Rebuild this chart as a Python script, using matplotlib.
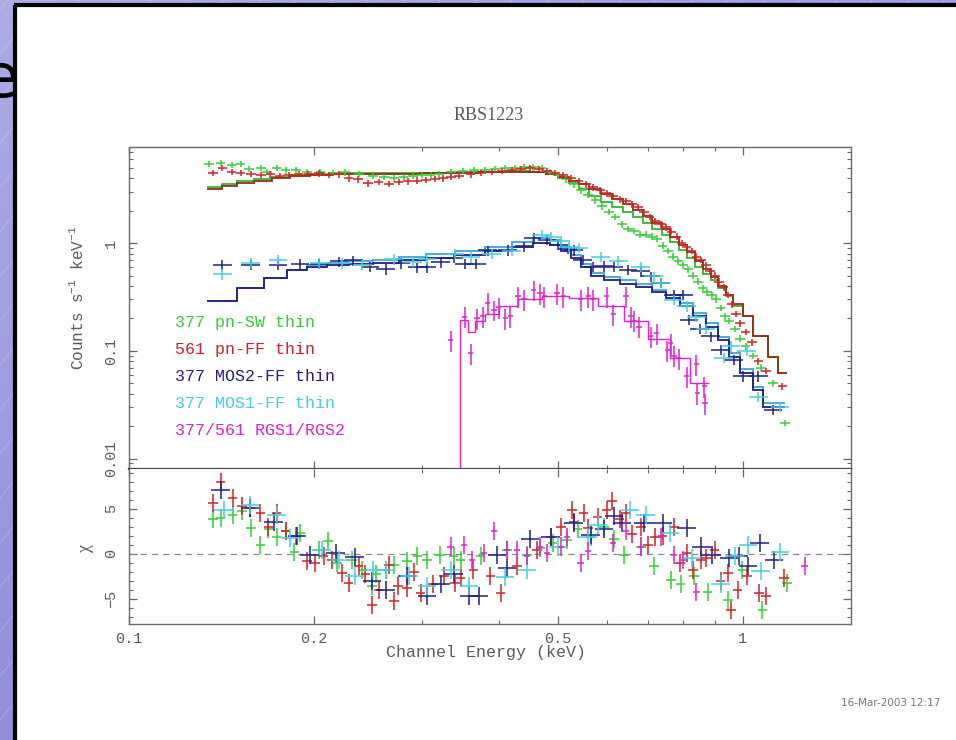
import numpy as np
import matplotlib
matplotlib.use("Agg")
import matplotlib.pyplot as plt
from matplotlib.patches import Rectangle
from matplotlib.ticker import LogLocator, MultipleLocator, NullFormatter

plt.rcParams['font.family'] = ['Liberation Mono', 'DejaVu Sans']
plt.rcParams['mathtext.default'] = 'regular'

# ---------------- data ----------------
legend_labels = ['377 pn-SW thin', '561 pn-FF thin', '377 MOS2-FF thin',
                 '377 MOS1-FF thin', '377/561 RGS1/RGS2']

# counts spectra (keV, counts/s/keV)
pnsw_e = [0.135, 0.141, 0.147, 0.152, 0.157, 0.164, 0.168, 0.174, 0.180, 0.187,
          0.195, 0.205, 0.215, 0.225, 0.237, 0.250, 0.260, 0.270, 0.280, 0.290,
          0.300, 0.310, 0.320, 0.335, 0.350, 0.365, 0.380, 0.395, 0.410, 0.425,
          0.440, 0.455, 0.470, 0.485, 0.500, 0.515, 0.530, 0.545, 0.560, 0.575,
          0.590, 0.605, 0.620, 0.635, 0.650, 0.665, 0.680, 0.695, 0.710, 0.725,
          0.740, 0.755, 0.770, 0.785, 0.800, 0.815, 0.830, 0.845, 0.860, 0.875,
          0.890, 0.905, 0.920, 0.935, 0.950, 0.970, 0.990, 1.010, 1.040, 1.070,
          1.120, 1.170]
pnsw_c = [5.45, 5.55, 5.30, 5.45, 4.90, 5.00, 4.60, 5.00, 4.75, 4.80,
          4.60, 4.60, 4.50, 4.55, 4.40, 4.20, 4.10, 4.00, 4.10, 4.20,
          4.30, 4.30, 4.40, 4.55, 4.70, 4.75, 4.80, 4.90, 4.95, 5.00,
          5.10, 5.05, 4.95, 4.60, 4.30, 3.90, 3.50, 3.10, 2.80, 2.50,
          2.20, 1.95, 1.75, 1.50, 1.35, 1.30, 1.20, 1.20, 1.15, 1.10,
          0.95, 0.85, 0.75, 0.68, 0.62, 0.57, 0.50, 0.44, 0.38, 0.35,
          0.33, 0.30, 0.25, 0.21, 0.19, 0.16, 0.13, 0.11, 0.09, 0.07,
          0.05, 0.0215]

pnff_e = [0.137, 0.142, 0.147, 0.152, 0.158, 0.164, 0.170, 0.176, 0.182, 0.189,
          0.196, 0.204, 0.212, 0.220, 0.228, 0.236, 0.245, 0.255, 0.265, 0.275,
          0.285, 0.295, 0.305, 0.315, 0.325, 0.335, 0.345, 0.360, 0.375, 0.390,
          0.405, 0.420, 0.435, 0.450, 0.465, 0.480, 0.495, 0.510, 0.525, 0.540,
          0.555, 0.570, 0.585, 0.600, 0.615, 0.630, 0.645, 0.660, 0.675, 0.690,
          0.705, 0.720, 0.735, 0.750, 0.765, 0.780, 0.795, 0.810, 0.825, 0.840,
          0.855, 0.870, 0.885, 0.900, 0.915, 0.930, 0.945, 0.960, 0.975, 0.990,
          1.010, 1.035, 1.060, 1.090, 1.160]
pnff_c = [4.50, 5.00, 4.60, 4.50, 4.40, 4.30, 4.35, 4.20, 4.30, 4.40,
          4.40, 4.45, 4.30, 4.35, 4.00, 3.90, 3.60, 3.70, 3.55, 3.70,
          3.75, 3.80, 3.85, 3.95, 4.00, 4.15, 4.20, 4.35, 4.50, 4.60,
          4.70, 4.80, 4.90, 4.95, 4.90, 4.70, 4.50, 4.25, 4.00, 3.75,
          3.50, 3.30, 3.10, 2.90, 2.75, 2.55, 2.45, 2.30, 2.15, 1.95,
          1.75, 1.60, 1.50, 1.40, 1.28, 1.15, 1.00, 0.92, 0.85, 0.75,
          0.70, 0.63, 0.55, 0.50, 0.44, 0.39, 0.33, 0.27, 0.22, 0.18,
          0.15, 0.12, 0.08, 0.065, 0.047]

mos2_e = [0.142, 0.158, 0.175, 0.190, 0.204, 0.220, 0.232, 0.247, 0.262, 0.277,
          0.295, 0.306, 0.322, 0.338, 0.352, 0.368, 0.384, 0.414, 0.440, 0.456,
          0.480, 0.500, 0.518, 0.530, 0.548, 0.571, 0.593, 0.616, 0.650, 0.682,
          0.708, 0.735, 0.772, 0.800, 0.817, 0.850, 0.887, 0.921, 0.967, 1.000,
          1.060, 1.120]
mos2_c = [0.63, 0.63, 0.63, 0.635, 0.64, 0.675, 0.69, 0.606, 0.574, 0.652,
          0.594, 0.594, 0.666, 0.735, 0.64, 0.64, 0.854, 0.86, 0.93, 1.11,
          1.07, 0.96, 0.89, 0.86, 0.70, 0.606, 0.61, 0.606, 0.565, 0.55,
          0.49, 0.43, 0.33, 0.33, 0.194, 0.16, 0.136, 0.102, 0.0824, 0.058,
          0.058, 0.0283]

mos1_e = [0.142, 0.158, 0.175, 0.204, 0.222, 0.240, 0.270, 0.290, 0.306, 0.340,
          0.360, 0.390, 0.420, 0.470, 0.487, 0.505, 0.520, 0.540, 0.587, 0.627,
          0.682, 0.716, 0.735, 0.772, 0.810, 0.840, 0.870, 0.930, 0.956, 1.015,
          1.060, 1.150]
mos1_c = [0.515, 0.65, 0.70, 0.65, 0.65, 0.63, 0.71, 0.67, 0.71, 0.80,
          0.74, 0.80, 0.85, 1.19, 1.15, 1.05, 0.92, 0.90, 0.75, 0.68,
          0.606, 0.49, 0.43, 0.297, 0.26, 0.208, 0.16, 0.086, 0.11, 0.10,
          0.0375, 0.0304]

rgs_e = [0.334, 0.352, 0.360, 0.369, 0.377, 0.384, 0.393, 0.400, 0.410, 0.418,
         0.430, 0.440, 0.456, 0.467, 0.475, 0.498, 0.510, 0.544, 0.560, 0.570,
         0.600, 0.615, 0.645, 0.657, 0.665, 0.677, 0.708, 0.724, 0.753, 0.763,
         0.772, 0.786, 0.810, 0.840, 0.843, 0.865, 0.868]
rgs_c = [0.125, 0.208, 0.095, 0.20, 0.21, 0.28, 0.24, 0.255, 0.20, 0.21,
         0.32, 0.30, 0.368, 0.345, 0.32, 0.345, 0.32, 0.30, 0.32, 0.30,
         0.32, 0.22, 0.32, 0.21, 0.19, 0.168, 0.136, 0.146, 0.102, 0.118,
         0.09, 0.085, 0.058, 0.075, 0.0405, 0.047, 0.0328]

# folded models (bin edges, values)
pn_edges = [0.134, 0.142, 0.150, 0.160, 0.171, 0.183, 0.197, 0.213, 0.231, 0.250,
            0.272, 0.298, 0.330, 0.370, 0.410, 0.450, 0.478, 0.500, 0.520, 0.540,
            0.562, 0.587, 0.612, 0.637, 0.662, 0.687, 0.712, 0.737, 0.762, 0.787,
            0.812, 0.837, 0.862, 0.887, 0.912, 0.937, 0.965, 1.000, 1.040, 1.100,
            1.140, 1.180]
pnsw_model = [3.35, 3.55, 3.75, 3.95, 4.15, 4.30, 4.40, 4.45, 4.45, 4.45,
              4.50, 4.50, 4.55, 4.60, 4.65, 4.60, 4.35, 4.00, 3.60, 3.20,
              2.75, 2.40, 2.15, 1.95, 1.75, 1.55, 1.35, 1.18, 1.02, 0.86,
              0.72, 0.60, 0.52, 0.45, 0.38, 0.32, 0.26, 0.21, 0.136, 0.088,
              0.0625]
pnff_model = [3.20, 3.40, 3.60, 3.80, 4.00, 4.20, 4.30, 4.35, 4.35, 4.35,
              4.40, 4.45, 4.50, 4.55, 4.60, 4.55, 4.35, 4.10, 3.80, 3.50,
              3.15, 2.85, 2.55, 2.30, 2.05, 1.80, 1.55, 1.35, 1.15, 0.97,
              0.82, 0.68, 0.57, 0.48, 0.40, 0.33, 0.27, 0.21, 0.136, 0.088,
              0.0625]

mos_edges = [0.134, 0.150, 0.166, 0.181, 0.195, 0.210, 0.228, 0.250, 0.275, 0.305,
             0.340, 0.380, 0.420, 0.455, 0.485, 0.505, 0.525, 0.545, 0.565, 0.595,
             0.630, 0.670, 0.710, 0.750, 0.790, 0.830, 0.870, 0.910, 0.950, 0.990,
             1.040, 1.080, 1.170]
mos2_model = [0.29, 0.385, 0.475, 0.565, 0.60, 0.62, 0.64, 0.66, 0.69, 0.73,
              0.78, 0.84, 0.92, 1.00, 0.97, 0.85, 0.72, 0.60, 0.50, 0.45,
              0.42, 0.39, 0.35, 0.31, 0.26, 0.21, 0.165, 0.125, 0.088, 0.062,
              0.043, 0.030]
mos1_model = [0.29, 0.385, 0.475, 0.565, 0.62, 0.65, 0.68, 0.70, 0.74, 0.79,
              0.85, 0.92, 1.02, 1.12, 1.07, 0.92, 0.77, 0.64, 0.53, 0.48,
              0.45, 0.42, 0.37, 0.33, 0.28, 0.225, 0.18, 0.135, 0.095, 0.068,
              0.046, 0.033]

rgs_edges = [0.300, 0.346, 0.356, 0.366, 0.380, 0.400, 0.430, 0.470, 0.520, 0.580,
             0.640, 0.700, 0.760, 0.820, 0.880]
rgs_model = [1e-4, 0.194, 0.15, 0.19, 0.22, 0.26, 0.30, 0.32, 0.31, 0.26,
             0.19, 0.13, 0.085, 0.05]

# residuals (keV, chi)
pnsw_res_e = [0.137, 0.141, 0.1475, 0.1527, 0.158, 0.1637, 0.1687, 0.174, 0.180, 0.186,
              0.190, 0.204, 0.211, 0.218, 0.231, 0.240, 0.249, 0.253, 0.262, 0.270,
              0.284, 0.295, 0.306, 0.321, 0.338, 0.347, 0.374, 0.413, 0.445, 0.468,
              0.490, 0.517, 0.538, 0.565, 0.594, 0.617, 0.640, 0.682, 0.716, 0.763,
              0.792, 0.833, 0.876, 0.945, 0.998, 1.076, 1.180]
pnsw_res = [3.8, 4.0, 4.3, 4.7, 2.9, 1.0, 2.7, 1.9, 2.5, 0.15,
            2.3, 0.44, 1.4, -1.0, -0.7, -1.8, -3.6, -2.2, -1.8, -1.2,
            -0.85, -0.3, -0.7, -0.1, -0.3, -0.67, -0.3, 0.44, -0.1, 0.6,
            1.2, 1.5, 2.7, 1.9, 3.0, 1.6, -0.1, 0.8, -1.4, -2.9,
            -3.4, -2.5, -4.2, -5.1, -1.8, -6.2, -3.3]

pnff_res_e = [0.137, 0.141, 0.1475, 0.1527, 0.1576, 0.1637, 0.1687, 0.174, 0.180, 0.187,
              0.195, 0.201, 0.2075, 0.214, 0.2223, 0.228, 0.2366, 0.2427, 0.2489, 0.255,
              0.265, 0.270, 0.2745, 0.2838, 0.291, 0.2985, 0.313, 0.3257, 0.340, 0.347,
              0.364, 0.388, 0.403, 0.429, 0.462, 0.486, 0.505, 0.527, 0.530, 0.550,
              0.560, 0.580, 0.600, 0.612, 0.630, 0.645, 0.660, 0.682, 0.700, 0.720,
              0.740, 0.773, 0.790, 0.810, 0.830, 0.854, 0.870, 0.899, 0.920, 0.945,
              0.956, 0.980, 1.015, 1.063, 1.090, 1.166]
pnff_res = [5.6, 8.0, 6.2, 5.3, 5.1, 4.5, 3.0, 4.5, 2.5, 2.0,
            -0.85, -1.0, -0.3, -0.7, -2.1, -3.2, -1.4, -2.3, -5.7, -4.0,
            -1.2, -5.2, -3.6, -3.8, -2.0, -4.4, -3.4, -2.5, -3.3, -2.7,
            -1.8, -2.5, -4.4, -1.4, 0.4, 1.9, 3.0, 4.9, 3.5, 4.5,
            2.8, 4.1, 4.8, 5.9, 3.8, 4.5, 2.2, 3.0, 1.0, 1.9,
            2.0, 3.0, -1.0, 0.07, -1.8, -0.67, -0.5, 0.44, -3.0, -2.15,
            -6.2, -4.0, -2.5, -4.4, -4.7, -2.7]

mos2_res_e = [0.141, 0.1576, 0.172, 0.188, 0.197, 0.217, 0.233, 0.249, 0.262, 0.284,
              0.306, 0.322, 0.338, 0.358, 0.371, 0.398, 0.413, 0.450, 0.486, 0.530,
              0.565, 0.594, 0.617, 0.636, 0.690, 0.740, 0.810, 0.856, 0.890, 0.950,
              0.985, 1.020, 1.065, 1.125]
mos2_res = [7.1, 5.1, 3.5, 2.0, -0.1, 0.1, -0.4, -3.0, -4.0, -2.5,
            -4.7, -3.4, -2.3, -4.7, -4.7, -0.1, -1.6, 1.6, 1.9, 3.4,
            2.1, 2.7, 4.2, 3.4, 3.4, 3.4, 2.8, 0.8, -0.1, -0.5,
            -0.3, -1.4, 1.2, -0.67]

mos1_res_e = [0.1426, 0.1576, 0.174, 0.183, 0.206, 0.220, 0.233, 0.250, 0.262, 0.286,
              0.306, 0.334, 0.358, 0.410, 0.445, 0.500, 0.560, 0.580, 0.655, 0.695,
              0.760, 0.825, 0.920, 0.970, 1.020, 1.070, 1.150]
mos1_res = [4.9, 5.4, 4.3, 1.7, 0.44, -0.7, -2.5, -1.8, -1.8, -2.5,
            -3.6, -1.8, -3.6, -2.6, -1.8, 0.8, 1.9, 3.2, 4.9, 4.3,
            2.3, -0.5, -3.4, -0.3, 1.0, -1.96, 0.15]

rgs_res_e = [0.334, 0.351, 0.362, 0.379, 0.393, 0.413, 0.429, 0.445, 0.467, 0.480,
             0.505, 0.517, 0.544, 0.560, 0.615, 0.645, 0.682, 0.735, 0.773, 0.800,
             0.840, 1.260]
rgs_res = [0.8, 1.0, -0.67, 0.07, 2.5, 0.44, 0.44, -0.3, 0.8, 0.07,
           0.8, 1.9, -1.0, 0.26, 1.2, 2.5, 0.8, 1.9, -0.1, -0.67,
           -4.2, -1.4]

# ---------------- styles ----------------
GREEN, RED, NAVY, CYAN, MAGENTA = '#30d030', '#d42020', '#1e1e8c', '#40cfe0', '#e020d0'
GREY = '#5a5a5a'

W, H = 956, 740
fig = plt.figure(figsize=(W / 100, H / 100), dpi=100)

# slide background with the white panel on top
bg = fig.add_axes([0, 0, 1, 1])
grid = np.linspace(0, 1, 200)
gx, gy = np.meshgrid(grid, grid)
t = (0.35 * gx + 0.65 * gy)[..., None]
top_c = np.array([172, 172, 232]) / 255
bot_c = np.array([128, 128, 212]) / 255
bg.imshow(top_c + (bot_c - top_c) * t, extent=[0, W, H, 0], aspect='auto', zorder=0)
for x0 in range(-700, W, 36):
    bg.plot([x0, x0 + 600], [H, 0], color='white', lw=0.7, alpha=0.2, zorder=1)
# tail of a slide heading that is hidden behind the white panel
bg.text(0, 80, 'e', fontsize=44, family='DejaVu Sans', color='black',
        ha='center', va='center', zorder=2)
bg.add_patch(Rectangle((15, 5), W - 15, H - 5, facecolor='white', edgecolor='none', zorder=3))
bg.plot([15, 15], [5, H], color='black', lw=3, zorder=4, solid_capstyle='butt')
bg.plot([14, W], [5, 5], color='black', lw=3, zorder=4, solid_capstyle='butt')
bg.set_xlim(0, W)
bg.set_ylim(H, 0)
bg.set_axis_off()

ax1 = fig.add_axes([129 / W, 1 - 469 / H, 722 / W, 322 / H])
ax2 = fig.add_axes([129 / W, 1 - 624 / H, 722 / W, 155 / H])

# upper panel: data crosses
spectra = [(pnsw_e, pnsw_c, 0.018, 0.07, GREEN),
           (pnff_e, pnff_c, 0.018, 0.07, RED),
           (mos2_e, mos2_c, 0.035, 0.11, NAVY),
           (mos1_e, mos1_c, 0.035, 0.11, CYAN),
           (rgs_e, rgs_c, 0.010, 0.22, MAGENTA)]
for e, c, fx, fy, col in spectra:
    e = np.array(e)
    c = np.array(c)
    ax1.errorbar(e, c, xerr=e * fx, yerr=c * fy, fmt='none', ecolor=col,
                 elinewidth=1.1, capsize=0)

# models
ax1.stairs(rgs_model, rgs_edges, baseline=None, color=MAGENTA, lw=1.0)
ax1.stairs(mos1_model, mos_edges, baseline=None, color='#3aa6d6', lw=1.3)
ax1.stairs(mos2_model, mos_edges, baseline=None, color=NAVY, lw=1.3)
ax1.stairs(pnsw_model, pn_edges, baseline=None, color='#2fb82f', lw=1.3)
ax1.stairs(pnff_model, pn_edges, baseline=None, color='#9a2a12', lw=1.3)

# lower panel: residuals
ax2.axhline(0, color='#8a8a8a', lw=0.9, ls=(0, (5, 4)))
residuals = [(pnsw_res_e, pnsw_res, 0.018, GREEN),
             (pnff_res_e, pnff_res, 0.018, RED),
             (mos2_res_e, mos2_res, 0.035, NAVY),
             (mos1_res_e, mos1_res, 0.035, CYAN),
             (rgs_res_e, rgs_res, 0.012, MAGENTA)]
for e, r, fx, col in residuals:
    e = np.array(e)
    ax2.errorbar(e, r, xerr=e * fx, yerr=1.0, fmt='none', ecolor=col,
                 elinewidth=1.1, capsize=0)

# axes cosmetics
for ax in (ax1, ax2):
    ax.set_xscale('log')
    ax.set_xlim(0.1, 1.5)
    ax.set_xticks([0.1, 0.2, 0.5, 1])
    ax.set_xticks([0.3, 0.4, 0.6, 0.7, 0.8, 0.9], minor=True)
    ax.xaxis.set_minor_formatter(NullFormatter())
    ax.tick_params(which='both', direction='in', top=True, right=True,
                   color='#666666', labelcolor=GREY, labelsize=11)
    ax.tick_params(which='major', length=6, width=0.9)
    ax.tick_params(which='minor', length=3, width=0.8)
    ax.tick_params(axis='x', pad=6)
    ax.tick_params(axis='y', pad=8)
    for s in ax.spines.values():
        s.set_color('#6a6a6a')
        s.set_linewidth(1.0)

ax1.tick_params(labelbottom=False)
ax1.spines['bottom'].set_color('#444444')
ax1.spines['bottom'].set_linewidth(1.6)
ax2.spines['top'].set_visible(False)
ax2.set_xticks([0.1, 0.2, 0.5, 1], labels=['0.1', '0.2', '0.5', '1'])

ax1.set_yscale('log')
ax1.set_ylim(0.008, 7.8)
ax1.set_yticks([0.01, 0.1, 1], labels=['0.01', '0.1', '1'], rotation=90, va='center')
ax1.yaxis.set_minor_locator(LogLocator(base=10, subs=range(2, 10)))
ax1.yaxis.set_minor_formatter(NullFormatter())

ax2.set_ylim(-7.8, 9.4)
ax2.set_yticks([-5, 0, 5], labels=['\u22125', '0', '5'], rotation=90, va='center')
ax2.yaxis.set_minor_locator(MultipleLocator(1))

# legend block
for i, (lab, col) in enumerate(zip(legend_labels, [GREEN, RED, NAVY, CYAN, MAGENTA])):
    ax1.text(0.064, 0.455 - i * 0.084, lab, transform=ax1.transAxes, color=col,
             fontsize=12, ha='left', va='center')

# labels and title
fig.text(489 / W, 1 - 115 / H, 'RBS1223', ha='center', va='center', fontsize=13,
         family='Liberation Serif', color=GREY)
fig.text(486 / W, 1 - 653 / H, 'Channel Energy (keV)', ha='center', va='center',
         fontsize=12, color=GREY)
fig.text(77 / W, 1 - 298 / H, 'Counts s$^{-1}$ keV$^{-1}$', ha='center', va='center',
         rotation=90, fontsize=11.5, color=GREY)
fig.text(85 / W, 1 - 548 / H, '\u03c7', ha='center', va='center', rotation=90,
         fontsize=13, family='Liberation Serif', color=GREY)
fig.text(940 / W, 1 - 703 / H, '16-Mar-2003 12:17', ha='right', va='center',
         fontsize=7.5, family='DejaVu Sans', color='#777777')

fig.savefig('out.png', dpi=100)
